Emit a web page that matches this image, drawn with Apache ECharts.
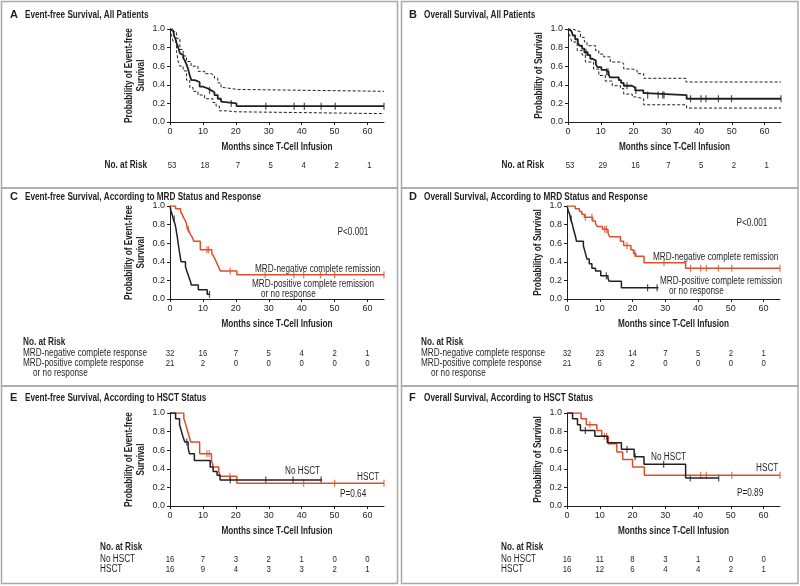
<!DOCTYPE html>
<html>
<head>
<meta charset="utf-8">
<title>Survival after T-cell infusion</title>
<script src="https://cdn.jsdelivr.net/npm/echarts@6/dist/echarts.min.js"></script>
<style>
  html, body { margin: 0; padding: 0; background: #fff; }
  #main { width: 800px; height: 586px; }
</style>
</head>
<body>
<div id="main"></div>
<script>
// x axis ticks (months) shared by all panels
const monthTicks = [0, 10, 20, 30, 40, 50, 60];

// A: event-free survival, all patients   [month, probability]
const efsAll = [[0,1],[0.5,0.98],[1,0.96],[1.3,0.92],[1.7,0.89],[2,0.85],[2.5,0.8],[3,0.74],[3.5,0.72],[4,0.69],[4.5,0.66],[5,0.62],[5.5,0.57],[6,0.5],[6.5,0.45],[7.5,0.43],[9,0.38],[10,0.36],[11.5,0.34],[12.5,0.32],[13.5,0.29],[14.5,0.25],[15.5,0.22],[16,0.2],[20.2,0.17],[65,0.17]];
const efsAllUpper = [[0,1],[1,0.97],[2,0.9],[3,0.78],[4,0.71],[5,0.65],[6.4,0.6],[8.5,0.545],[10.5,0.52],[12.5,0.5],[13.5,0.47],[14.5,0.42],[15.5,0.37],[16.5,0.35],[20.5,0.33],[65,0.33]];
const efsAllLower = [[0,1],[0.5,0.93],[1,0.86],[2,0.75],[2.5,0.65],[3,0.6],[4,0.55],[5,0.45],[6,0.37],[7,0.33],[8.5,0.29],[10.5,0.25],[13,0.21],[14,0.17],[15,0.12],[17,0.11],[20,0.09],[65,0.09]];
const efsAllCensor = [12, 18.6, 29.1, 37.7, 40.8, 45.9, 50.2, 65];
const efsAllRisk = [53, 18, 7, 5, 4, 2, 1];

// B: overall survival, all patients
const osAll = [[0,1],[0.5,0.98],[1,0.96],[1.5,0.93],[2.2,0.89],[3,0.85],[3.5,0.82],[4.3,0.79],[5,0.75],[6,0.72],[6.8,0.68],[7.5,0.66],[8.5,0.62],[9,0.59],[10.2,0.56],[11.5,0.54],[12.4,0.51],[12.8,0.48],[15.5,0.45],[16.2,0.42],[17,0.39],[19.5,0.37],[20.5,0.34],[23,0.31],[23.8,0.29],[36.2,0.25],[65,0.25]];
const osAllUpper = [[0,1],[1.5,0.99],[2.2,0.97],[3.8,0.91],[5,0.86],[5.8,0.82],[8.4,0.77],[9.4,0.73],[10.9,0.7],[12.9,0.645],[16,0.63],[17,0.57],[19.6,0.555],[21.1,0.52],[23.1,0.47],[36,0.43],[65,0.43]];
const osAllLower = [[0,1],[0.3,0.95],[0.6,0.92],[1.2,0.86],[2.8,0.77],[4.3,0.72],[5.3,0.645],[7.8,0.57],[9.4,0.5],[11.4,0.44],[13.5,0.39],[16,0.36],[17,0.3],[19.6,0.27],[20.6,0.25],[23.1,0.185],[36.2,0.15],[65,0.15]];
const osAllCensor = [5.5, 11.8, 12.2, 18, 20.7, 24.3, 27.5, 28.9, 29.3, 37.4, 40.6, 42.1, 45.9, 49.9, 65];
const osAllRisk = [53, 29, 16, 7, 5, 2, 1];

// C: event-free survival by MRD status
const efsNeg = [[0,1],[1.7,0.97],[3.2,0.94],[3.7,0.91],[4.2,0.87],[4.7,0.84],[5,0.81],[5.3,0.75],[5.9,0.72],[6.3,0.69],[6.8,0.66],[7.2,0.62],[9.2,0.53],[12.7,0.49],[13.2,0.46],[13.8,0.42],[14.3,0.38],[14.8,0.34],[15.3,0.3],[20.3,0.26],[65,0.26]];
const efsNegCensor = [5.6, 11.2, 11.7, 18.3, 28.9, 37.6, 40.6, 45.7, 50, 65];
const efsPos = [[0,1],[0.3,0.95],[0.7,0.9],[1,0.86],[1.5,0.81],[1.8,0.76],[2,0.71],[2.2,0.67],[2.4,0.62],[2.6,0.57],[2.8,0.52],[3,0.48],[3.2,0.43],[3.4,0.4],[4.7,0.35],[5.1,0.3],[5.6,0.25],[6.1,0.2],[6.5,0.15],[8.6,0.1],[11.3,0.05],[12,0.05]];
const efsPosCensor = [1.3, 12];
const efsNegRisk = [32, 16, 7, 5, 4, 2, 1];
const efsPosRisk = [21, 2, 0, 0, 0, 0, 0];

// D: overall survival by MRD status
const osNeg = [[0,1],[2.5,0.97],[3.8,0.94],[4.5,0.91],[5.3,0.88],[7.8,0.84],[8.7,0.81],[9.2,0.78],[10.8,0.75],[12.5,0.71],[13,0.67],[16.3,0.62],[17.3,0.575],[19.5,0.53],[20.3,0.49],[21,0.46],[23.5,0.39],[36.2,0.33],[65,0.33]];
const osNegCensor = [5.6, 7.6, 11.5, 12, 18.3, 20.7, 29.6, 37.7, 40.8, 42.5, 46.2, 50.3, 65];
const osPos = [[0,1],[0.4,0.95],[0.9,0.9],[1.1,0.86],[1.6,0.81],[1.9,0.76],[2.3,0.71],[2.6,0.67],[2.9,0.62],[5,0.57],[5.4,0.52],[5.7,0.48],[6.1,0.43],[6.8,0.38],[7.6,0.33],[8.7,0.3],[10.3,0.25],[12.5,0.22],[12.9,0.19],[16.6,0.12],[27.9,0.12]];
const osPosCensor = [1.3, 12, 24.6, 27.5];
const osNegRisk = [32, 23, 14, 7, 5, 2, 1];
const osPosRisk = [21, 6, 2, 0, 0, 0, 0];

// E: event-free survival by HSCT status
const efsHsct = [[0,1],[4.2,0.9375],[4.8,0.875],[5.3,0.8125],[5.8,0.75],[6.3,0.6875],[9,0.5625],[12.6,0.49],[13.2,0.42],[14.8,0.37],[15.3,0.32],[20.3,0.245],[65,0.245]];
const efsHsctCensor = [11.2, 11.9, 18.2, 40.6, 50, 65];
const efsNoHsct = [[0,1],[1.7,0.9375],[2.9,0.875],[3.4,0.8125],[3.9,0.75],[4.5,0.6875],[5.5,0.625],[5.9,0.5625],[7.4,0.49],[12.2,0.42],[13.1,0.37],[14.3,0.33],[15.2,0.28],[46.2,0.28]];
const efsNoHsctCensor = [5.1, 18.3, 29.1, 37.4, 45.9];
const efsNoHsctRisk = [16, 7, 3, 2, 1, 0, 0];
const efsHsctRisk = [16, 9, 4, 3, 3, 2, 1];

// F: overall survival by HSCT status
const osHsct = [[0,1],[4.3,0.9375],[5.9,0.875],[9.1,0.8125],[10.6,0.75],[12.6,0.67],[15.2,0.58],[17,0.5],[20,0.42],[23.6,0.33],[65,0.33]];
const osHsctCensor = [7, 11.4, 12.1, 40.8, 42.5, 50.3, 65];
const osNoHsct = [[0,1],[1.7,0.9375],[3.2,0.875],[4.1,0.8125],[8.5,0.75],[12.3,0.68],[16.6,0.61],[20.5,0.53],[23.5,0.45],[36.2,0.3],[46.3,0.3]];
const osNoHsctCensor = [5.6, 18.3, 20.8, 29.5, 37.6, 46.3];
const osNoHsctRisk = [16, 11, 8, 3, 1, 0, 0];
const osHsctRisk = [16, 12, 6, 4, 4, 2, 1];

const ink = '#231f20';
const red = '#d9512c';
const frameGray = '#a7a9ac';
const sans = "'Liberation Sans', Arial, sans-serif";
const squeeze = 0.82; // narrow the Arial-like face to a condensed width

const grids = [
  { left: 170, top: 29, width: 214, height: 93 },  // A
  { left: 568, top: 29, width: 213, height: 93 },  // B
  { left: 170, top: 206, width: 214, height: 93 }, // C
  { left: 567, top: 206, width: 213, height: 93 }, // D
  { left: 170, top: 413, width: 214, height: 93 }, // E
  { left: 567, top: 413, width: 213, height: 93 }  // F
];
const yNames = [
  'Probability of Event-free\nSurvival', 'Probability of Survival',
  'Probability of Event-free\nSurvival', 'Probability of Survival',
  'Probability of Event-free\nSurvival', 'Probability of Survival'
];

function survAt(curve, t) {
  let s = curve[0][1];
  for (const [time, value] of curve) if (time <= t) s = value;
  return s;
}

function km(gi, data, color, width, dashed) {
  return {
    type: 'line', xAxisIndex: gi, yAxisIndex: gi, data: data, step: 'end',
    symbol: 'none', silent: true,
    lineStyle: { color: color, width: width, type: dashed ? [3, 2] : 'solid' }
  };
}

function censor(gi, curve, times, color) {
  return {
    type: 'scatter', xAxisIndex: gi, yAxisIndex: gi, silent: true,
    data: times.map(t => [t, survAt(curve, t)]),
    symbol: 'rect', symbolSize: [1.2, 7], itemStyle: { color: color }
  };
}

const series = [
  km(0, efsAllUpper, ink, 1, true), km(0, efsAllLower, ink, 1, true),
  km(0, efsAll, ink, 1.8), censor(0, efsAll, efsAllCensor, ink),
  km(1, osAllUpper, ink, 1, true), km(1, osAllLower, ink, 1, true),
  km(1, osAll, ink, 1.8), censor(1, osAll, osAllCensor, ink),
  km(2, efsPos, ink, 1.5), censor(2, efsPos, efsPosCensor, ink),
  km(2, efsNeg, red, 1.5), censor(2, efsNeg, efsNegCensor, red),
  km(3, osPos, ink, 1.5), censor(3, osPos, osPosCensor, ink),
  km(3, osNeg, red, 1.5), censor(3, osNeg, osNegCensor, red),
  km(4, efsHsct, red, 1.5), censor(4, efsHsct, efsHsctCensor, red),
  km(4, efsNoHsct, ink, 1.5), censor(4, efsNoHsct, efsNoHsctCensor, ink),
  km(5, osHsct, red, 1.5), censor(5, osHsct, osHsctCensor, red),
  km(5, osNoHsct, ink, 1.5), censor(5, osNoHsct, osNoHsctCensor, ink)
];

const option = {
  animation: false,
  backgroundColor: '#fff',
  grid: grids,
  xAxis: grids.map((g, i) => ({
    gridIndex: i, type: 'value', min: 0, max: 65, interval: 10,
    axisLine: { lineStyle: { color: ink, width: 1 } },
    axisTick: { length: 3, customValues: monthTicks, lineStyle: { color: ink } },
    axisLabel: { customValues: monthTicks, color: ink, fontSize: 9, margin: 5, fontFamily: sans },
    splitLine: { show: false }
  })),
  yAxis: grids.map((g, i) => ({
    gridIndex: i, type: 'value', min: 0, max: 1, interval: 0.2,
    axisLine: { show: true, lineStyle: { color: ink, width: 1 } },
    axisTick: { show: true, length: 3, lineStyle: { color: ink } },
    axisLabel: { formatter: v => v.toFixed(1), color: ink, fontSize: 9, margin: 5, fontFamily: sans },
    splitLine: { show: false }
  })),
  series: series
};

const chart = echarts.init(document.getElementById('main'), null, { renderer: 'canvas' });
chart.setOption(option);

function txt(x, y, text, opts) {
  opts = opts || {};
  return {
    type: 'text', x: x, y: y, silent: true,
    rotation: opts.rotation || 0,
    scaleX: opts.plain ? 1 : squeeze,
    style: {
      text: text, fill: ink,
      fontSize: opts.size || 10, fontWeight: opts.bold ? 'bold' : 'normal',
      fontFamily: sans, lineHeight: opts.lineHeight || undefined,
      align: opts.align || 'left', verticalAlign: 'middle'
    }
  };
}
function frame(x, y, w, h) {
  return { type: 'rect', silent: true, shape: { x: x, y: y, width: w, height: h },
    style: { fill: 'none', stroke: frameGray, lineWidth: 1.5 } };
}

const g = [
  frame(1.5, 1.5, 396, 186.5), frame(1.5, 188, 396, 198), frame(1.5, 386, 396, 197.5),
  frame(401.5, 1.5, 396.5, 186.5), frame(401.5, 188, 396.5, 198), frame(401.5, 386, 396.5, 197.5)
];

// panel headings
const heads = [
  ['A', 'Event-free Survival, All Patients', 10, 15],
  ['B', 'Overall Survival, All Patients', 409, 15],
  ['C', 'Event-free Survival, According to MRD Status and Response', 10, 197],
  ['D', 'Overall Survival, According to MRD Status and Response', 409, 197],
  ['E', 'Event-free Survival, According to HSCT Status', 10, 398],
  ['F', 'Overall Survival, According to HSCT Status', 409, 398]
];
heads.forEach(h => {
  g.push(txt(h[2], h[3], h[0], { bold: true, size: 11, plain: true }));
  g.push(txt(h[2] + 15, h[3], h[1], { bold: true }));
});

// axis titles
grids.forEach((gr, i) => {
  g.push(txt(gr.left + gr.width / 2, gr.top + gr.height + 25, 'Months since T-Cell Infusion',
    { bold: true, align: 'center' }));
  g.push(txt(i % 2 ? gr.left - 29 : gr.left - 35, gr.top + gr.height / 2, yNames[i],
    { bold: true, align: 'center', rotation: Math.PI / 2, lineHeight: 12 }));
});

// in-plot annotations
g.push(txt(353, 232, 'P<0.001', { align: 'center' }));
g.push(txt(255, 269, 'MRD-negative complete remission'));
g.push(txt(252, 284, 'MRD-positive complete remission'));
g.push(txt(261, 294, 'or no response'));
g.push(txt(752, 223, 'P<0.001', { align: 'center' }));
g.push(txt(653, 257, 'MRD-negative complete remission'));
g.push(txt(660, 281, 'MRD-positive complete remission'));
g.push(txt(669, 291, 'or no response'));
g.push(txt(285, 471, 'No HSCT'));
g.push(txt(357, 477, 'HSCT'));
g.push(txt(340, 494, 'P=0.64'));
g.push(txt(651, 457, 'No HSCT'));
g.push(txt(756, 468, 'HSCT'));
g.push(txt(737, 493, 'P=0.89'));

// numbers at risk
function riskRow(gi, values, y, shift) {
  values.forEach((v, i) => {
    const px = chart.convertToPixel({ xAxisIndex: gi }, monthTicks[i]);
    g.push(txt(px + (shift || 0), y, String(v), { align: 'center', size: 9.5 }));
  });
}
g.push(txt(147, 165, 'No. at Risk', { bold: true, align: 'right' }));
riskRow(0, efsAllRisk, 165, 2);
g.push(txt(544, 165, 'No. at Risk', { bold: true, align: 'right' }));
riskRow(1, osAllRisk, 165, 2);

g.push(txt(23, 342, 'No. at Risk', { bold: true }));
g.push(txt(23, 353, 'MRD-negative complete response'));
g.push(txt(23, 363, 'MRD-positive complete response'));
g.push(txt(33, 373, 'or no response'));
riskRow(2, efsNegRisk, 353);
riskRow(2, efsPosRisk, 363);

g.push(txt(421, 342, 'No. at Risk', { bold: true }));
g.push(txt(421, 353, 'MRD-negative complete response'));
g.push(txt(421, 363, 'MRD-positive complete response'));
g.push(txt(431, 373, 'or no response'));
riskRow(3, osNegRisk, 353);
riskRow(3, osPosRisk, 363);

g.push(txt(100, 547, 'No. at Risk', { bold: true }));
g.push(txt(100, 559, 'No HSCT'));
g.push(txt(100, 569, 'HSCT'));
riskRow(4, efsNoHsctRisk, 559);
riskRow(4, efsHsctRisk, 569);

g.push(txt(501, 547, 'No. at Risk', { bold: true }));
g.push(txt(501, 559, 'No HSCT'));
g.push(txt(501, 569, 'HSCT'));
riskRow(5, osNoHsctRisk, 559);
riskRow(5, osHsctRisk, 569);

chart.setOption({ graphic: { elements: g } });
</script>
</body>
</html>
